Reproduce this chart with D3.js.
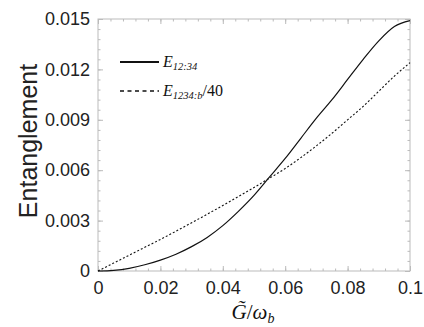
<!DOCTYPE html>
<html>
<head>
<meta charset="utf-8">
<script src="https://cdn.jsdelivr.net/npm/d3@7"></script>
<style>
  body { margin: 0; background: #fff; }
  svg { display: block; }
  .tick text { font-family: "Liberation Sans", Arial, sans-serif; font-size: 18px; fill: #222; }
  .serif { font-family: "Liberation Serif", "DejaVu Serif", serif; font-style: italic; fill: #111; }
</style>
</head>
<body>
<svg width="424" height="327"></svg>
<script>
// G/omega_b values
var xVals = [0, 0.005, 0.01, 0.015, 0.02, 0.025, 0.03, 0.035, 0.04, 0.045, 0.05, 0.055, 0.06, 0.065, 0.07, 0.075, 0.08, 0.085, 0.09, 0.095, 0.1];
// E_{12:34}
var solidVals = [0, 0.00004, 0.00016, 0.00037, 0.00065, 0.001, 0.00145, 0.002, 0.0027, 0.00355, 0.0045, 0.0056, 0.0067, 0.0079, 0.0091, 0.0102, 0.0114, 0.0126, 0.0137, 0.01455, 0.0149];
// E_{1234:b}/40
var dottedVals = [0, 0.00047, 0.00094, 0.00141, 0.00188, 0.00237, 0.00287, 0.00338, 0.0039, 0.00443, 0.00497, 0.00553, 0.0061, 0.00675, 0.00745, 0.0082, 0.009, 0.0098, 0.0107, 0.0116, 0.0124];
var xTicks = [0, 0.02, 0.04, 0.06, 0.08, 0.1];
var xTickLabels = ["0", "0.02", "0.04", "0.06", "0.08", "0.1"];
var yTicks = [0, 0.003, 0.006, 0.009, 0.012, 0.015];
var yTickLabels = ["0", "0.003", "0.006", "0.009", "0.012", "0.015"];

var svg = d3.select("svg"),
    margin = {top: 19, right: 14, bottom: 56, left: 98},
    width = +svg.attr("width") - margin.left - margin.right,
    height = +svg.attr("height") - margin.top - margin.bottom;

var x = d3.scaleLinear().domain([0, 0.1]).range([0, width]),
    y = d3.scaleLinear().domain([0, 0.015]).range([height, 0]);

var g = svg.append("g")
    .attr("transform", "translate(" + margin.left + "," + margin.top + ")");

var frameColor = "#bbb";

// minor ticks
var xMinor = d3.range(0, 0.1001, 0.004), yMinor = d3.range(0, 0.01501, 0.0006);

function styleAxis(sel) {
  sel.select(".domain").remove();
  sel.selectAll(".tick line").attr("stroke", frameColor);
}

// bottom/top
g.append("g").attr("transform", "translate(0," + height + ")")
    .call(d3.axisBottom(x).tickValues(xMinor).tickSize(-2.5).tickFormat(""))
    .call(styleAxis);
g.append("g").attr("transform", "translate(0," + height + ")")
    .call(d3.axisBottom(x).tickValues(xTicks).tickSize(-5).tickPadding(10)
      .tickFormat(function(d, i) { return xTickLabels[i]; }))
    .call(styleAxis);
g.append("g")
    .call(d3.axisTop(x).tickValues(xMinor).tickSize(-2.5).tickFormat(""))
    .call(styleAxis);
g.append("g")
    .call(d3.axisTop(x).tickValues(xTicks).tickSize(-5).tickFormat(""))
    .call(styleAxis);

// left/right
g.append("g")
    .call(d3.axisLeft(y).tickValues(yMinor).tickSize(-2.5).tickFormat(""))
    .call(styleAxis);
g.append("g")
    .call(d3.axisLeft(y).tickValues(yTicks).tickSize(-5).tickPadding(8)
      .tickFormat(function(d, i) { return yTickLabels[i]; }))
    .call(styleAxis);
g.append("g").attr("transform", "translate(" + width + ",0)")
    .call(d3.axisRight(y).tickValues(yMinor).tickSize(-2.5).tickFormat(""))
    .call(styleAxis);
g.append("g").attr("transform", "translate(" + width + ",0)")
    .call(d3.axisRight(y).tickValues(yTicks).tickSize(-5).tickFormat(""))
    .call(styleAxis);

g.append("rect")
    .attr("width", width).attr("height", height)
    .attr("fill", "none").attr("stroke", frameColor).attr("stroke-width", 1);

var line = d3.line().curve(d3.curveMonotoneX)
    .x(function(d, i) { return x(xVals[i]); })
    .y(function(d) { return y(d); });

g.append("path").datum(dottedVals)
    .attr("fill", "none").attr("stroke", "#111").attr("stroke-width", 1.1)
    .attr("stroke-dasharray", "2,2")
    .attr("d", line);

g.append("path").datum(solidVals)
    .attr("fill", "none").attr("stroke", "#111").attr("stroke-width", 1.2)
    .attr("d", line);

// legend
var leg = g.append("g").attr("transform", "translate(22,43)");
leg.append("line").attr("x1", 0).attr("x2", 39).attr("y1", 0).attr("y2", 0)
    .attr("stroke", "#111").attr("stroke-width", 1.8);
leg.append("line").attr("x1", 0).attr("x2", 39).attr("y1", 29).attr("y2", 29)
    .attr("stroke", "#111").attr("stroke-width", 1.6).attr("stroke-dasharray", "4,3.5");
var t1 = leg.append("text").attr("class", "serif").attr("x", 43).attr("y", 5).attr("font-size", 16);
t1.append("tspan").text("E");
t1.append("tspan").attr("font-size", 10.5).attr("dy", 3).text("12:34");
var t2 = leg.append("text").attr("class", "serif").attr("x", 43).attr("y", 34).attr("font-size", 16);
t2.append("tspan").text("E");
t2.append("tspan").attr("font-size", 10.5).attr("dy", 3).text("1234:b");
t2.append("tspan").attr("dy", -3).attr("font-style", "normal").text("/40");

// axis titles
svg.append("text")
    .attr("transform", "translate(37," + (margin.top + height / 2 - 4) + ") rotate(-90)")
    .attr("text-anchor", "middle")
    .attr("font-family", "'Liberation Sans', Arial, sans-serif")
    .attr("font-size", 25).attr("fill", "#222")
    .text("Entanglement");

var xt = svg.append("text").attr("class", "serif")
    .attr("x", 253).attr("y", 319).attr("text-anchor", "middle").attr("font-size", 21);
xt.append("tspan").text("G\u0303");
xt.append("tspan").attr("font-style", "normal").text("/");
xt.append("tspan").text("\u03c9");
xt.append("tspan").attr("font-size", 14).attr("dy", 4).text("b");
</script>
</body>
</html>
